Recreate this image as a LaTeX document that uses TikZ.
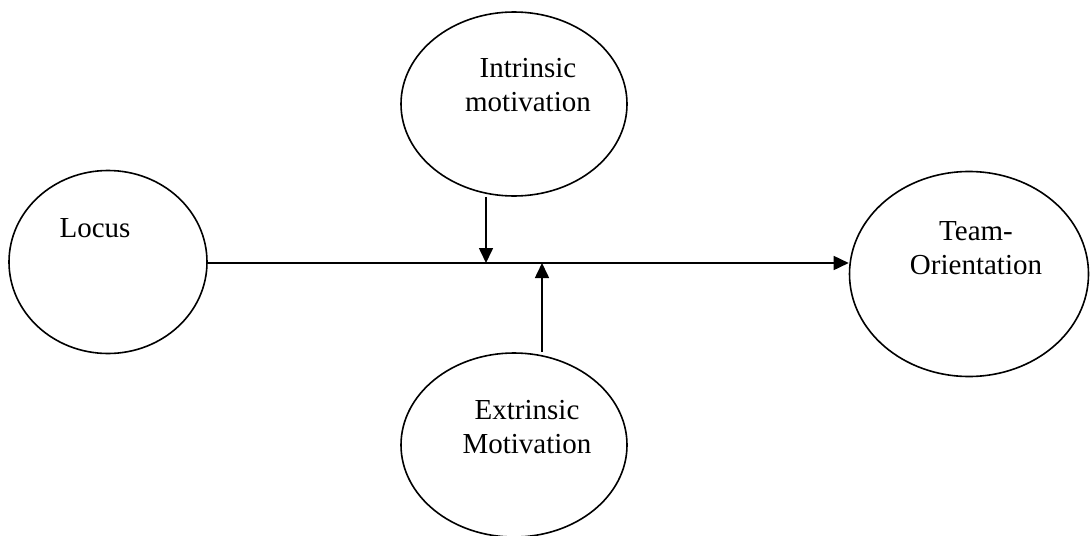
\documentclass[tikz,border=0pt]{standalone}
\usepackage{fontspec}
\setmainfont{Liberation Serif}
\usetikzlibrary{arrows.meta,shapes.geometric}
\begin{document}
\begin{tikzpicture}[x=1pt,y=-1pt,
  bub/.style={draw, line width=1.6pt, ellipse, inner sep=0pt},
  lbl/.style={font=\fontsize{29}{34}\selectfont, align=center, inner sep=0pt},
  arr/.style={line width=1.6pt, -{Triangle[length=15pt,width=14pt]}}]
\useasboundingbox (0,0) rectangle (1091,535);
\node[bub, minimum width=198pt, minimum height=183pt] (locus) at (108,262) {};
\node[bub, minimum width=226pt, minimum height=184pt] (intr) at (514,104) {};
\node[bub, minimum width=226pt, minimum height=184pt] (ext) at (514,445) {};
\node[bub, minimum width=239pt, minimum height=205pt] (team) at (969,274) {};
\node[lbl, anchor=base] (tlocus) at (95,237) {Locus};
\node[lbl, anchor=base] (tintr) at (528,111) {Intrinsic\\motivation};
\node[lbl, anchor=base] (text) at (527,453) {Extrinsic\\Motivation};
\node[lbl, anchor=base] (tteam) at (976,274) {Team-\\Orientation};
\coordinate (j1) at (486,263);
\coordinate (j2) at (542,263);
\draw[arr] (locus.east |- j1) -- (team.west |- j1);
\draw[arr] (intr.south -| j1) -- (j1);
\draw[arr] (ext.north -| j2) -- (j2);
\end{tikzpicture}
\end{document}
